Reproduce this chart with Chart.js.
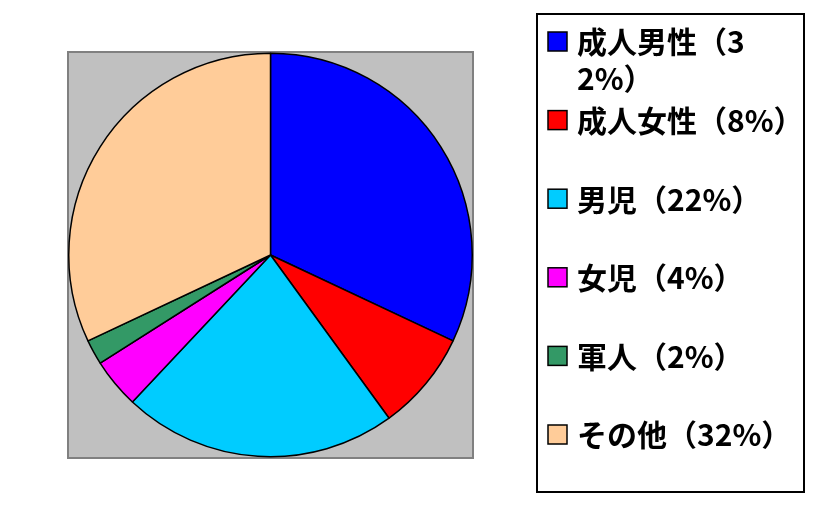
<!DOCTYPE html>
<html>
<head>
<meta charset="utf-8">
<script src="https://cdn.jsdelivr.net/npm/chart.js@4"></script>
<style>
  html, body { margin: 0; padding: 0; background: #fff; }
  #wrap { width: 821px; height: 511px; }
</style>
</head>
<body>
<div id="wrap"><canvas id="pieChart" width="821" height="511"></canvas></div>
<script>
// data
const categories = ['成人男性', '成人女性', '男児', '女児', '軍人', 'その他'];
const shares = [32, 8, 22, 4, 2, 32];
const sliceColors = ['#0000FF', '#FF0000', '#00CCFF', '#FF00FF', '#339966', '#FFCC99'];

const legendLabels = categories.map((c, i) => c + '（' + shares[i] + '%）');

// gray plot area behind the pie
const plotBg = {
    id: 'plotBg',
    beforeDraw(chart) {
        const { ctx, chartArea: a } = chart;
        ctx.save();
        ctx.fillStyle = '#C0C0C0';
        ctx.fillRect(a.left, a.top, a.right - a.left, a.bottom - a.top);
        ctx.strokeStyle = '#808080';
        ctx.lineWidth = 2;
        ctx.strokeRect(a.left, a.top, a.right - a.left, a.bottom - a.top);
        ctx.restore();
    }
};

// chars that may not start / end a line
const noStart = '%）)';
const noEnd = '（(';

// boxed legend on the right, labels wrap by character
const boxLegend = {
    id: 'boxLegend',
    afterDraw(chart) {
        const ctx = chart.ctx;
        const box = { x: 537, y: 14, w: 267, h: 478 };
        ctx.save();
        ctx.fillStyle = '#fff';
        ctx.fillRect(box.x, box.y, box.w, box.h);
        ctx.strokeStyle = '#000';
        ctx.lineWidth = 2;
        ctx.strokeRect(box.x, box.y, box.w, box.h);

        ctx.font = 'bold 30px "Noto Sans CJK JP"';
        ctx.textBaseline = 'middle';
        const textX = 577, maxW = 218, lineH = 37;
        // visible ink width of a string
        const inkW = s => ctx.measureText(s).actualBoundingBoxRight;
        const labels = chart.data.labels;
        const colors = chart.data.datasets[0].backgroundColor;
        labels.forEach((txt, i) => {
            const cy = 42 + i * 78.6;
            const chars = Array.from(txt);
            const lines = [];
            let start = 0;
            while (start < chars.length) {
                let end = start + 1;
                while (end < chars.length &&
                       inkW(chars.slice(start, end + 1).join('')) <= maxW) end++;
                if (end < chars.length) {
                    while (end > start + 1 &&
                           (noStart.includes(chars[end]) || noEnd.includes(chars[end - 1]))) end--;
                }
                lines.push(chars.slice(start, end).join(''));
                start = end;
            }

            ctx.fillStyle = colors[i];
            ctx.fillRect(548, cy - 10, 19, 19);
            ctx.strokeStyle = '#000';
            ctx.lineWidth = 1.5;
            ctx.strokeRect(548, cy - 10, 19, 19);

            ctx.fillStyle = '#000';
            lines.forEach((ln, j) => ctx.fillText(ln, textX, cy + j * lineH));
        });
        ctx.restore();
    }
};

const ctxPie = document.getElementById('pieChart').getContext('2d');
new Chart(ctxPie, {
    type: 'pie',
    data: {
        labels: legendLabels,
        datasets: [{
            data: shares,
            backgroundColor: sliceColors,
            borderColor: '#000',
            borderWidth: 1.5
        }]
    },
    options: {
        responsive: false,
        animation: false,
        layout: { padding: { left: 68, top: 52, right: 348, bottom: 53 } },
        plugins: {
            legend: { display: false },
            tooltip: { enabled: false }
        }
    },
    plugins: [plotBg, boxLegend]
});
</script>
</body>
</html>
